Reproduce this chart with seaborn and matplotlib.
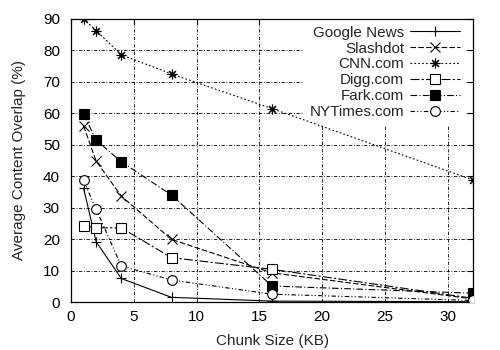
import matplotlib
matplotlib.use("Agg")
import matplotlib.pyplot as plt
import seaborn as sns
import pandas as pd

chunk_kb = [1, 2, 4, 8, 16, 32]
google_news = [36.2, 19.2, 7.5, 1.5, 0.3, 0.1]
slashdot = [56.0, 44.8, 33.7, 19.9, 9.3, 1.0]
cnn = [90.0, 86.3, 78.6, 72.5, 61.5, 38.8]
digg = [24.2, 23.6, 23.6, 14.1, 10.4, 1.2]
fark = [59.7, 51.5, 44.6, 34.0, 5.1, 2.8]
nytimes = [38.7, 29.5, 11.5, 7.0, 2.5, 0.5]

series = [
    ("Google News", google_news),
    ("Slashdot", slashdot),
    ("CNN.com", cnn),
    ("Digg.com", digg),
    ("Fark.com", fark),
    ("NYTimes.com", nytimes),
]

styles = {
    "Google News": dict(marker="+", linestyle="-", mfc="black"),
    "Slashdot": dict(marker="x", linestyle=(0, (5, 2)), mfc="black"),
    "CNN.com": dict(marker=(8, 2, 0), linestyle=(0, (1.5, 2)), mfc="black"),
    "Digg.com": dict(marker="s", linestyle=(0, (8, 2, 2, 2)), mfc="white"),
    "Fark.com": dict(marker="s", linestyle=(0, (6, 2, 1, 2)), mfc="black"),
    "NYTimes.com": dict(marker="o", linestyle=(0, (4, 2, 1, 2, 1, 2)), mfc="white"),
}

sns.set_theme(style="white")
plt.rcParams["font.family"] = ["Liberation Sans", "DejaVu Sans"]
plt.rcParams["font.size"] = 11

fig = plt.figure(figsize=(5, 3.5), dpi=100)
ax = fig.add_axes([0.142, 0.137, 0.804, 0.809])

for name, vals in series:
    df = pd.DataFrame({"x": chunk_kb, "y": vals})
    st = styles[name]
    sns.lineplot(data=df, x="x", y="y", ax=ax, color="black", linewidth=0.8,
                 marker=st["marker"], linestyle=st["linestyle"],
                 markerfacecolor=st["mfc"], markeredgecolor="black",
                 markeredgewidth=0.8, markersize=7, label=name, zorder=3)

ax.set_xlim(0, 32)
ax.set_ylim(0, 90)
ax.set_xticks([0, 5, 10, 15, 20, 25, 30])
ax.set_yticks(range(0, 91, 10))
ax.set_xlabel("Chunk Size (KB)", fontsize=11, labelpad=7)
ax.set_ylabel("Average Content Overlap (%)", fontsize=11, labelpad=12)
ax.grid(True, color="black", linewidth=0.6, linestyle=(0, (4, 2, 1, 2)))
for s in ax.spines.values():
    s.set_color("black")
    s.set_linewidth(0.9)
ax.tick_params(direction="in", length=4, width=0.8, top=True, right=True,
               labelsize=11, colors="black", pad=6)
ax.tick_params(axis="y", pad=8)

leg = ax.legend(loc="upper right", bbox_to_anchor=(0.985, 1.0),
                markerfirst=False, frameon=True,
                fontsize=11, handlelength=3.3, handletextpad=0.35,
                labelspacing=0.12, borderpad=0.4, borderaxespad=0.05,
                fancybox=False, framealpha=1.0)
leg.get_frame().set_edgecolor("white")
leg.get_frame().set_linewidth(0)
leg.set_zorder(2)

fig.savefig("out.png", dpi=100)
